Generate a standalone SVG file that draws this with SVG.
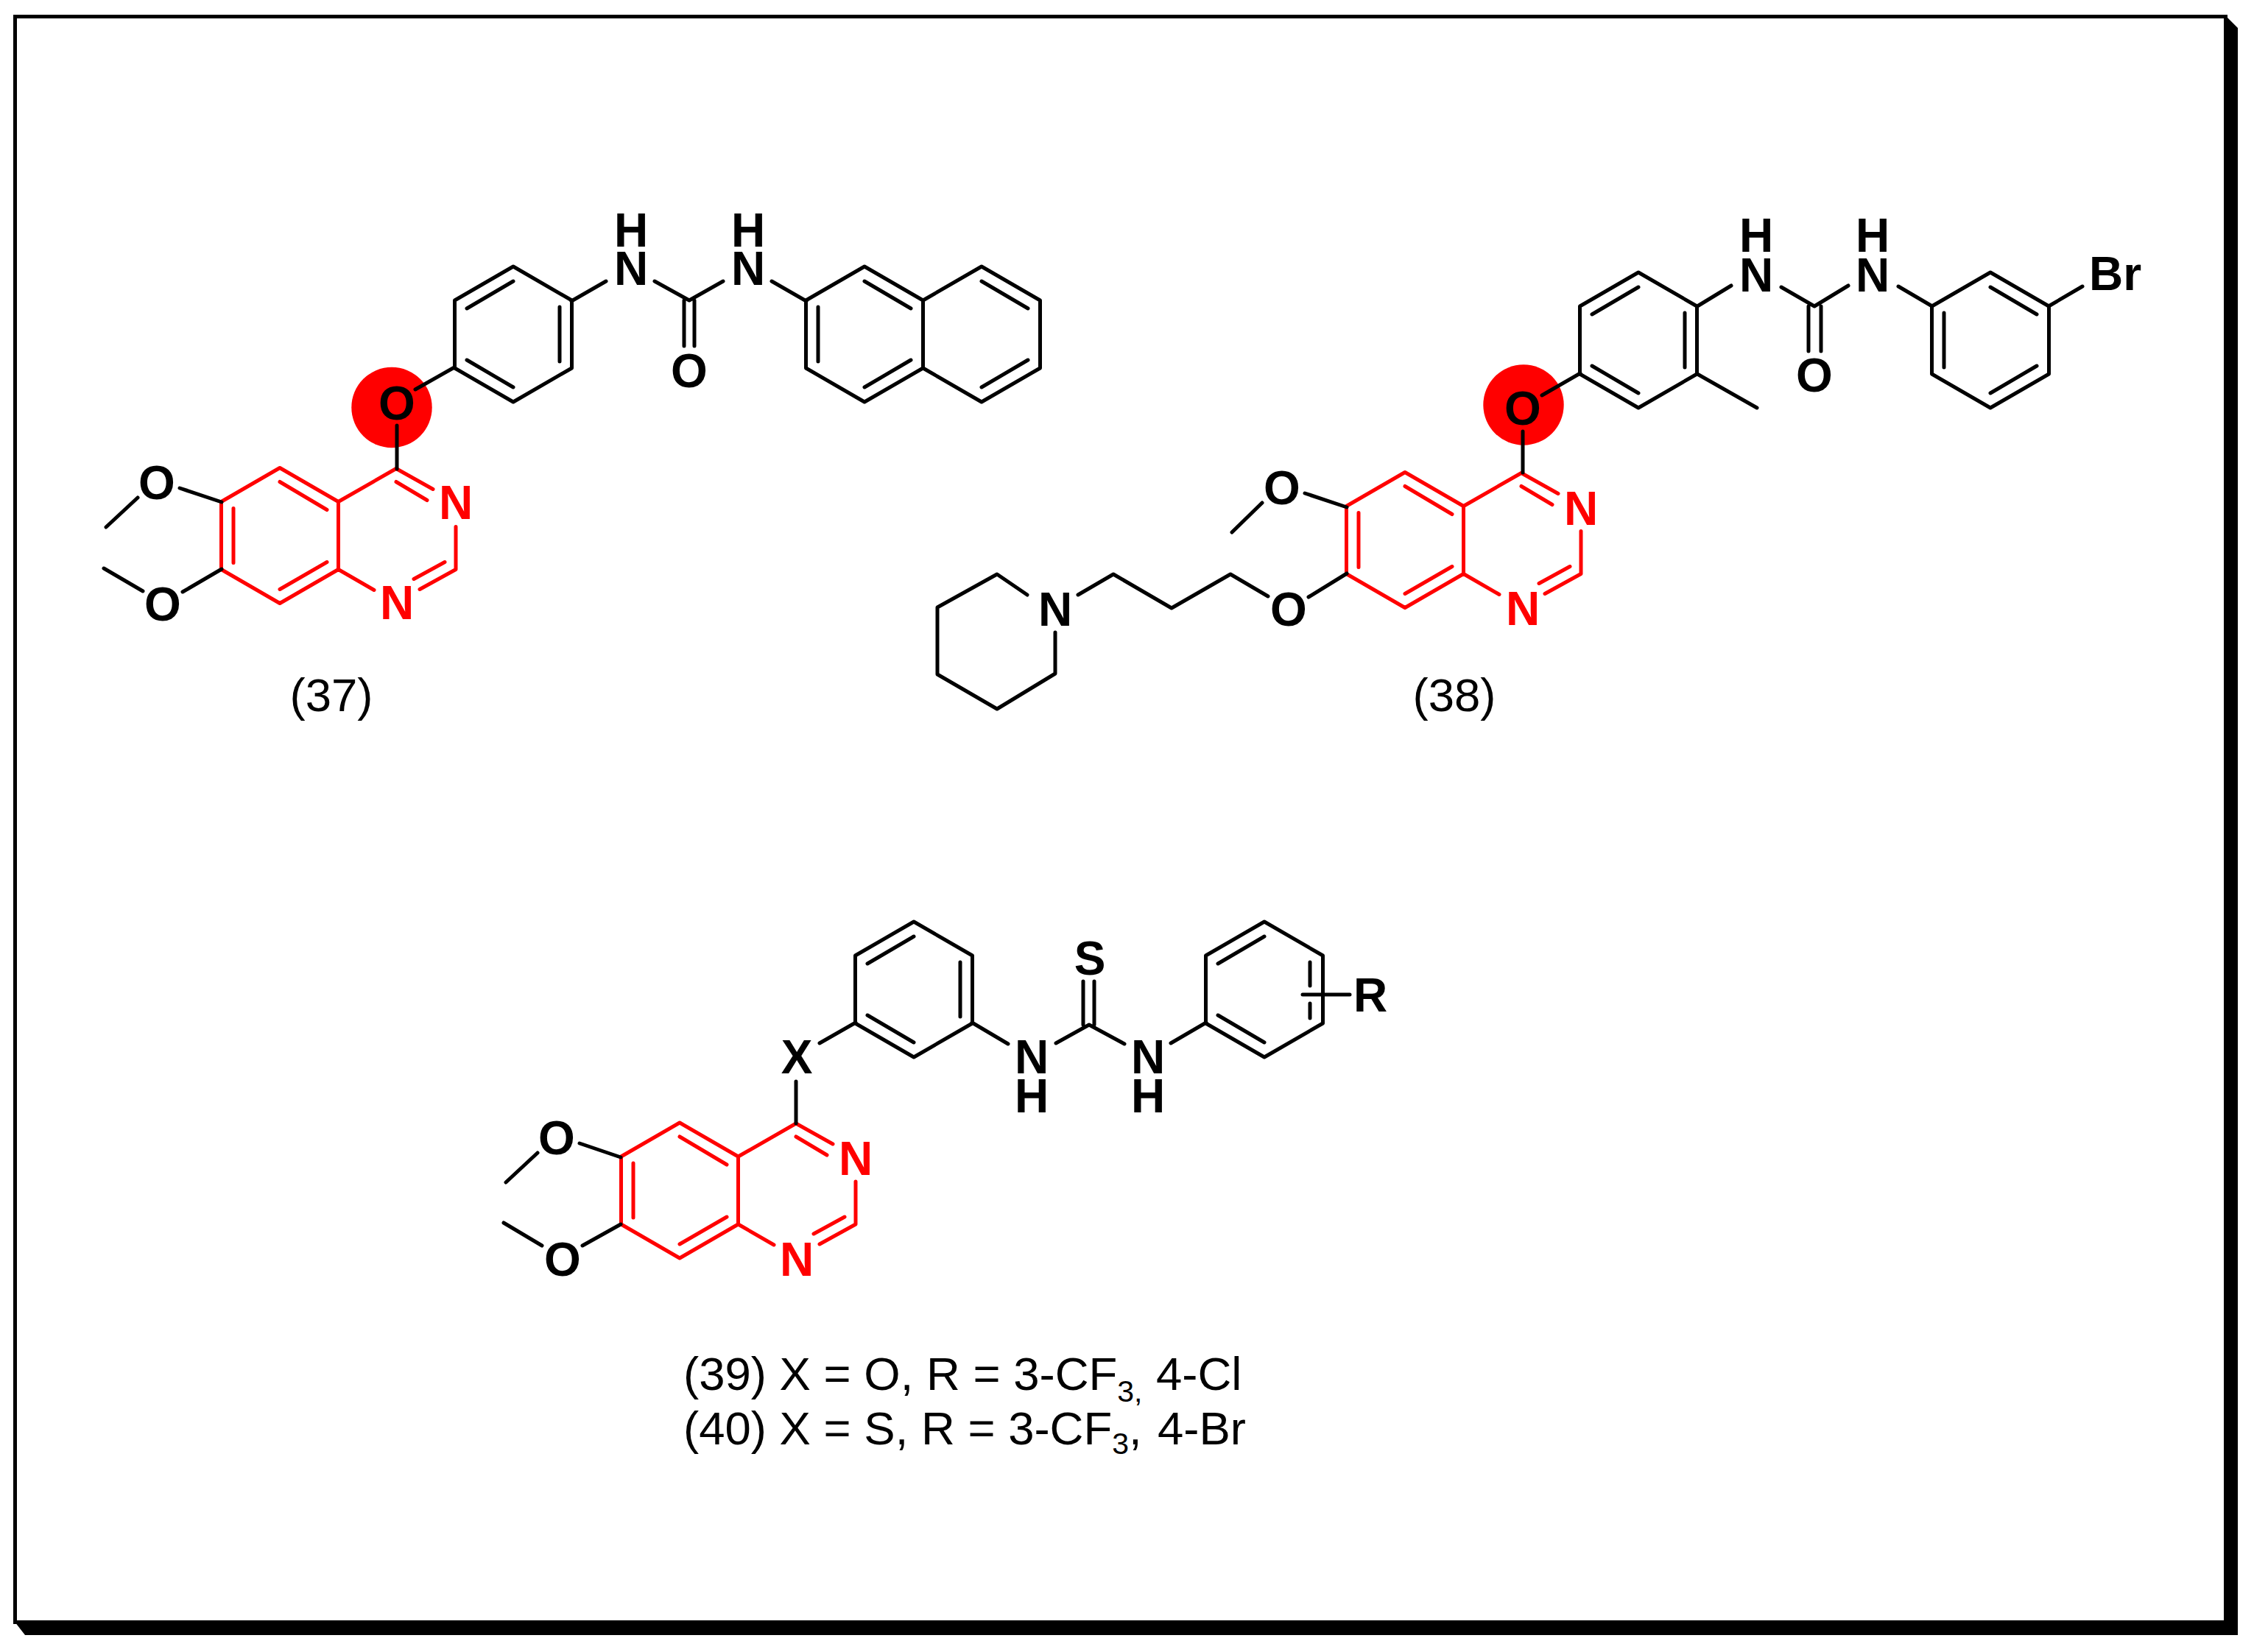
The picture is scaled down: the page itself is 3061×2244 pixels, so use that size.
<svg xmlns="http://www.w3.org/2000/svg" xmlns:xlink="http://www.w3.org/1999/xlink" width="3061" height="2244" viewBox="0 0 3061 2244">
<style>
.k{fill:none;stroke:#000;stroke-width:5;stroke-linecap:round;stroke-linejoin:round}
.r{fill:none;stroke:#f00;stroke-width:5;stroke-linecap:round;stroke-linejoin:round}
text{font-family:"Liberation Sans",Arial,sans-serif;text-anchor:middle}
.a{font-size:64px;font-weight:700;fill:#000}
.ar{font-size:64px;font-weight:700;fill:#f00}
.t{font-size:63.5px;fill:#000}
.s{text-anchor:start}
.u{font-size:41px}
</style>
<defs>
<path id="hex" class="k" d="M0,-92 L79.5,-46 V46 L0,92 L-79.5,46 V-46 Z"/>
<path id="pa" class="k" d="M-63,-35 L0,-72 M63,-37 V37 M-63,35 L0,72"/>
<path id="pb" class="k" d="M-63,-37 V37 M0,-72 L63,-35 M0,72 L63,35"/>
<path id="pc" class="k" d="M0,-72 L63,-35 M0,72 L63,35"/>
<path id="quin" class="r" d="M0,-92 L79.5,-46 V46 L0,92 L-79.5,46 V-46 Z M0,-73 L64,-35 M-63,-37 V37 M0,73 L64,36 M79.5,-46 L158,-91 L208,-63 M158,-73 L200,-48 M239,-12 V46 L190,73 M224,36 L182,59 M79.5,46 L128,74"/>
</defs>
<rect width="3061" height="2244" fill="#fff"/>
<g id="frame">
<rect x="20.5" y="22.5" width="3002" height="2181" fill="none" stroke="#000" stroke-width="5"/>
<path d="M3023,22 L3039,38 V2221 H34 L20,2203 H3023 Z" fill="#000"/>
</g>

<g id="compound-37">
<circle cx="532" cy="553.5" r="54.7" fill="#f00"/>
<use xlink:href="#quin" href="#quin" x="380" y="727.5"/>
<use xlink:href="#hex" href="#hex" x="697" y="454"/><use xlink:href="#pa" href="#pa" x="697" y="454"/>
<use xlink:href="#hex" href="#hex" x="1174" y="454"/><use xlink:href="#pb" href="#pb" x="1174" y="454"/>
<use xlink:href="#hex" href="#hex" x="1333" y="454"/><use xlink:href="#pc" href="#pc" x="1333" y="454"/>
<g id="bonds-37">
<path class="k" d="M539,637 V578 M564,529 L617,499 M776,409 L823,382 M889,382 L936,408 L982,382 M929,408 V470 M943,408 V470 M1048,382 L1095,409 M301,682 L244,663 M187,676 L144,716 M301,773 L248,804 M194,803 L141,772"/>
</g>
<text class="a" x="539" y="570">O</text>
<text class="ar" x="619" y="705">N</text>
<text class="ar" x="539" y="841">N</text>
<text class="a" x="213" y="678">O</text>
<text class="a" x="221" y="843">O</text>
<text class="a" x="857" y="387">N</text><text class="a" x="857" y="335">H</text>
<text class="a" x="1016" y="387">N</text><text class="a" x="1016" y="335">H</text>
<text class="a" x="936" y="526">O</text>
<text class="t" x="450" y="966">(37)</text>
</g>

<g id="compound-38">
<circle cx="2069" cy="550" r="54.7" fill="#f00"/>
<use xlink:href="#quin" href="#quin" x="1908" y="733.5"/>
<use xlink:href="#hex" href="#hex" x="2225" y="462"/><use xlink:href="#pa" href="#pa" x="2225" y="462"/>
<use xlink:href="#hex" href="#hex" x="2703" y="462"/><use xlink:href="#pb" href="#pb" x="2703" y="462"/>
<g id="bonds-38">
<path class="k" d="M2068,642 V586 M2094,537 L2146,507 M2305,508 L2386,554 M2305,416 L2351,388 M2419,390 L2464,416 L2510,388 M2456,416 V477 M2473,416 V477 M2578,389 L2624,416 M2782,416 L2828,389 M1829,689 L1772,670 M1714,683 L1673,723 M1395,808 L1354,780 L1273,825 V916 L1354,963 L1433,915 V859 M1464,808 L1512,780 L1591,826 L1671,780 L1722,810 M1777,811 L1829,779"/>
</g>
<text class="a" x="2068" y="577">O</text>
<text class="ar" x="2147" y="713">N</text>
<text class="ar" x="2068" y="849">N</text>
<text class="a" x="1741" y="685">O</text>
<text class="a" x="1750" y="850">O</text>
<text class="a" x="1433" y="850">N</text>
<text class="a" x="2385" y="396">N</text><text class="a" x="2385" y="342">H</text>
<text class="a" x="2543" y="396">N</text><text class="a" x="2543" y="342">H</text>
<text class="a" x="2464" y="532">O</text>
<text class="a s" x="2837" y="394">Br</text>
<text class="t" x="1975" y="966">(38)</text>
</g>

<g id="compound-39-40">
<use xlink:href="#quin" href="#quin" x="923" y="1617"/>
<use xlink:href="#hex" href="#hex" x="1241" y="1344"/><use xlink:href="#pa" href="#pa" x="1241" y="1344"/>
<use xlink:href="#hex" href="#hex" x="1717" y="1344"/>
<g id="bonds-39">
<path class="k" d="M1654,1309 L1717,1272 M1654,1379 L1717,1416 M1779,1307 V1339 M1779,1363 V1383 M1769,1351 H1833 M1081,1469 V1526 M1113,1417 L1162,1389 M1320,1389 L1369,1418 M1434,1417 L1479,1392 L1527,1418 M1471,1392 V1333 M1486,1392 V1333 M1590,1417 L1638,1389 M843,1572 L787,1553 M730,1566 L687,1606 M843,1663 L791,1692 M736,1692 L684,1661"/>
</g>
<text class="a" x="1082" y="1458">X</text>
<text class="ar" x="1162" y="1596">N</text>
<text class="ar" x="1082" y="1733">N</text>
<text class="a" x="756" y="1568">O</text>
<text class="a" x="764" y="1733">O</text>
<text class="a" x="1401" y="1458">N</text><text class="a" x="1401" y="1511">H</text>
<text class="a" x="1559" y="1458">N</text><text class="a" x="1559" y="1511">H</text>
<text class="a" x="1480" y="1324">S</text>
<text class="a" x="1861" y="1374">R</text>
<text class="t s" x="928" y="1888">(39) X = O, R = 3-CF<tspan class="u" dy="16">3,</tspan><tspan dy="-16" x="1570">4-Cl</tspan></text>
<text class="t s" x="928" y="1962">(40) X = S, R = 3-CF<tspan class="u" dy="13">3</tspan><tspan dy="-13">,</tspan><tspan x="1572">4-Br</tspan></text>
</g>
</svg>
